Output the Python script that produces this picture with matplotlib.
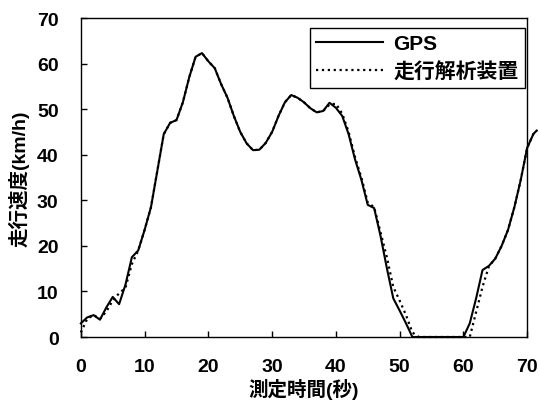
import numpy as np
import matplotlib
matplotlib.use('Agg')
import matplotlib.pyplot as plt

plt.rcParams['font.family'] = ['Liberation Sans', 'Noto Sans CJK JP', 'DejaVu Sans']
plt.rcParams['font.weight'] = 'bold'

# measurement time (s)
t_sec = list(range(72)) + [71.5]

# speed from GPS (km/h)
v_gps = [3.0, 4.3, 4.8, 3.8, 6.5, 8.8, 7.2, 11.5, 17.5, 19.0,
         23.5, 28.5, 36.5, 44.5, 47.0, 47.6, 51.5, 57.0, 61.5, 62.3,
         60.5, 59.0, 55.5, 52.5, 48.5, 45.0, 42.5, 41.0, 41.1, 42.6,
         45.0, 48.5, 51.5, 53.1, 52.5, 51.5, 50.2, 49.3, 49.6, 51.4,
         50.3, 48.5, 44.5, 39.0, 34.5, 29.0, 28.3, 22.2, 15.1, 8.5,
         5.8, 3.0, 0.0, 0.0, 0.0, 0.0, 0.0, 0.0, 0.0, 0.0,
         0.0, 3.0, 8.5, 14.7, 15.6, 17.2, 20.0, 23.5, 28.5, 34.5,
         41.5, 44.6, 45.3]

# speed from the driving analyser (km/h)
v_dev = [1.0, 4.0, 4.8, 4.0, 5.6, 8.0, 9.6, 10.8, 16.0, 19.0,
         23.5, 28.5, 36.5, 44.5, 47.0, 47.6, 51.5, 57.0, 61.5, 62.3,
         60.5, 59.0, 55.5, 52.5, 48.5, 45.0, 42.5, 41.0, 41.1, 42.6,
         45.0, 48.5, 51.5, 53.1, 52.5, 51.5, 50.2, 49.3, 49.6, 51.0,
         51.2, 49.0, 45.0, 39.5, 35.0, 29.5, 28.5, 23.0, 17.5, 11.0,
         8.0, 4.8, 1.0, 0.0, 0.0, 0.0, 0.0, 0.0, 0.0, 0.0,
         0.0, 0.0, 5.5, 11.0, 15.5, 17.2, 20.0, 23.5, 28.5, 34.5,
         41.5, 44.6, 45.3]

fig = plt.figure(figsize=(5.39, 4.10), dpi=100)
ax = fig.add_axes([0.150, 0.1756, 0.828, 0.778])

ax.plot(t_sec, v_gps, color='black', lw=1.5, label='GPS', clip_on=False)
ax.plot(t_sec, v_dev, color='black', lw=1.6, linestyle=':', label='走行解析装置',
        clip_on=False)

ax.set_xlim(0, 70)
ax.set_ylim(0, 70)
ax.set_xticks(range(0, 71, 10))
ax.set_yticks(range(0, 71, 10))
ax.tick_params(direction='in', length=4, width=1, labelsize=14)
ax.tick_params(axis='y', pad=16)
ax.tick_params(axis='x', pad=15)
for lab in ax.get_xticklabels() + ax.get_yticklabels():
    lab.set_fontweight('bold')
for s in ax.spines.values():
    s.set_linewidth(1.0)

ax.set_xlabel('測定時間(秒)', fontsize=14, fontweight='bold', labelpad=2)
ax.set_ylabel('走行速度(km/h)', fontsize=14, fontweight='bold', labelpad=5)

leg = ax.legend(loc='upper right', bbox_to_anchor=(0.995, 0.97), fontsize=15,
                handlelength=3.2, handletextpad=0.5, borderpad=0.3,
                labelspacing=0.4, fancybox=False, framealpha=1,
                edgecolor='black', borderaxespad=0)
leg.get_frame().set_linewidth(1.0)
for txt in leg.get_texts():
    txt.set_fontweight('bold')

fig.savefig('out.png', dpi=100)
